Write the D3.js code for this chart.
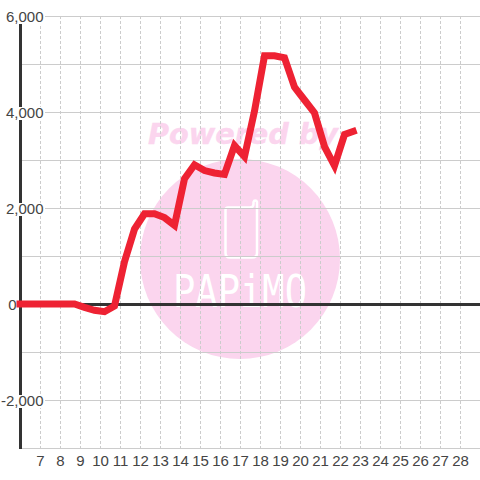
<!DOCTYPE html>
<html><head><meta charset="utf-8">
<script src="https://cdn.jsdelivr.net/npm/d3@7/dist/d3.min.js"></script>
<style>html,body{margin:0;padding:0;background:#fff}svg{display:block}</style></head>
<body><div id="c"></div>
<script>
const hours=[5.8,6.5,7,7.5,8,8.7,9.2,9.7,10.2,10.7,11.2,11.7,12.2,12.7,13.2,13.7,14.2,14.7,15.2,15.7,16.2,16.7,17.2,17.7,18.2,18.7,19.2,19.7,20.2,20.7,21.2,21.7,22.2,22.8];
const values=[0,0,0,0,0,0,-70,-130,-160,-40,880,1560,1880,1880,1800,1640,2610,2900,2780,2730,2700,3300,3070,4020,5170,5170,5130,4520,4250,3980,3280,2880,3530,3620];
const yTicks=[-2000,0,2000,4000,6000];
const yMinor=[-1000,1000,3000,5000];
const xTicks=d3.range(7,29);
const W=480,H=480;
const x=d3.scaleLinear().domain([6,29]).range([20.5,480.5]);
const y=d3.scaleLinear().domain([-3000,6000]).range([448,16]);
const fmt=d3.format(",");
const pink="#fbd5ee";
const svg=d3.select("#c").append("svg").attr("width",W).attr("height",H).style("font-family","'Liberation Sans',Arial,sans-serif");
// watermark
svg.append("circle").attr("cx",240).attr("cy",259).attr("r",100).attr("fill",pink);
svg.append("text").attr("x",148).attr("y",144).attr("textLength",190).attr("lengthAdjust","spacingAndGlyphs").attr("font-family","'DejaVu Sans'").attr("font-weight","bold").attr("font-style","italic").attr("font-size",28).attr("fill",pink).attr("stroke",pink).attr("stroke-width",.4).text("Powered by");
svg.append("path").attr("d","M228 207.5H250Q253.5 207.5 253.5 204V202A1.8 1.8 0 0 1 257 202V253Q257 257.5 252 257.5H230Q225.5 257.5 225.5 253V210Q225.5 207.5 228 207.5Z").attr("fill","none").attr("stroke","#fff").attr("stroke-width",2.5);
svg.append("text").attr("x",173).attr("y",307).attr("textLength",134).attr("lengthAdjust","spacingAndGlyphs").attr("font-family","'DejaVu Sans Mono'").attr("font-size",45).attr("fill","#fff").text("PAPiMO");
// grid
const g=svg.append("g");
g.selectAll(".v").data(xTicks).join("line").attr("x1",d=>x(d)).attr("x2",d=>x(d)).attr("y1",16).attr("y2",448).attr("stroke","#cccccc").attr("stroke-dasharray","3,2");
g.selectAll(".h").data(yTicks.concat(yMinor)).join("line").attr("x1",20).attr("x2",480).attr("y1",d=>y(d)+.5).attr("y2",d=>y(d)+.5).attr("stroke","#cccccc");
g.append("line").attr("x1",20).attr("x2",480).attr("y1",448.5).attr("y2",448.5).attr("stroke","#cccccc");
// axes
g.append("line").attr("x1",20.5).attr("x2",20.5).attr("y1",16).attr("y2",449).attr("stroke","#333").attr("stroke-width",3);
g.append("line").attr("x1",20).attr("x2",480).attr("y1",y(0)+.5).attr("y2",y(0)+.5).attr("stroke","#333").attr("stroke-width",3);
// labels with white plates
const yl=svg.selectAll(".yl").data(yTicks).join("g");
yl.filter(d=>d!==0).append("rect").attr("x",0).attr("width",45).attr("y",d=>y(d)-5).attr("height",13).attr("fill","#fff");
yl.append("text").attr("x",d=>d===0?16.5:43.5).attr("y",d=>y(d)+6).attr("text-anchor","end").attr("font-size",15).attr("fill","#444").text(d=>fmt(d).replace("−","-"));
svg.selectAll(".xl").data(xTicks).join("text").attr("x",d=>x(d)).attr("y",466).attr("text-anchor","middle").attr("font-size",15).attr("fill","#444").text(d=>d);
// line
const line=d3.line().x((d,i)=>x(hours[i])).y(d=>y(d));
svg.append("path").datum(values).attr("d",line).attr("fill","none").attr("stroke","#ee2233").attr("stroke-width",7);
</script></body></html>
